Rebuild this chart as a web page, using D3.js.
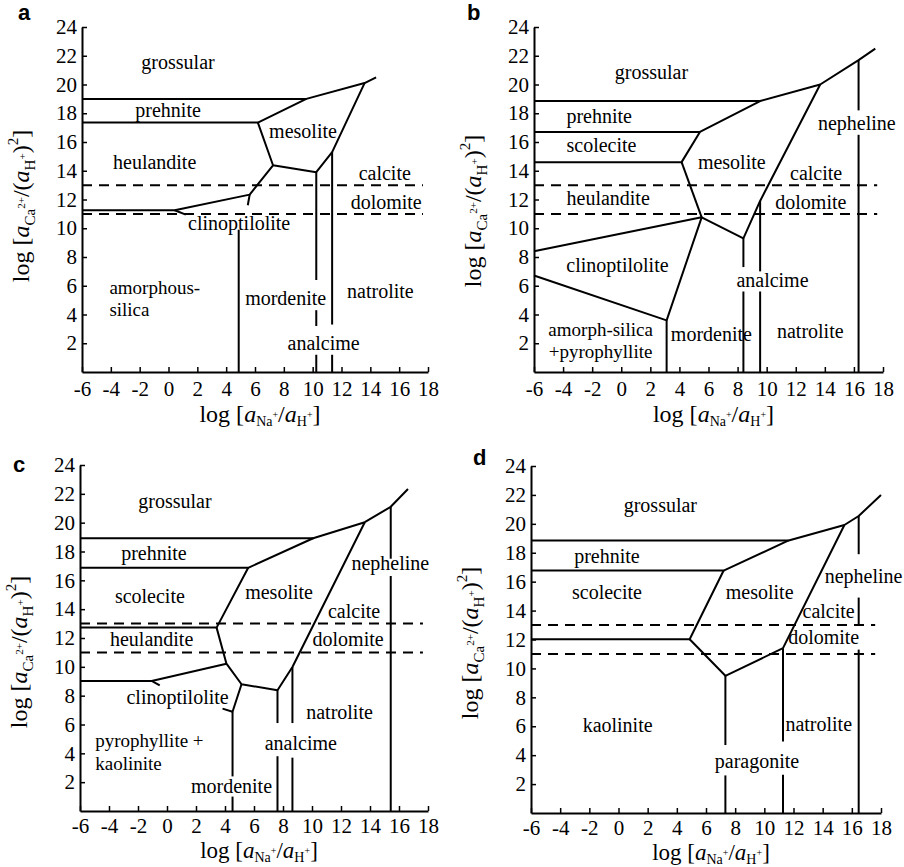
<!DOCTYPE html>
<html>
<head>
<meta charset="utf-8">
<script src="https://cdn.jsdelivr.net/npm/d3@7/dist/d3.min.js"></script>
<style>
  html, body { margin: 0; padding: 0; background: #fff; }
  svg { display: block; }
</style>
</head>
<body>
<script>
// ---------- data ----------
const xTicks = [-6, -4, -2, 0, 2, 4, 6, 8, 10, 12, 14, 16, 18];
const yTicks = [2, 4, 6, 8, 10, 12, 14, 16, 18, 20, 22, 24];
const panelNames = ["a", "b", "c", "d"];
const calciteDolomite = [13, 11]; // dashed stability lines

// phase boundaries (log aNa+/aH+, log aCa2+/aH+^2)
const linesA = [
  [[-6, 19], [9.56, 19], [13.6, 20.1], [14.4, 20.5]],
  [[-6, 17.35], [6.2, 17.35], [9.56, 19]],
  [[6.2, 17.35], [7.25, 14.38], [10.25, 13.9], [11.35, 15.3], [13.6, 20.1]],
  [[7.25, 14.38], [5.63, 12.34], [0.43, 11.25], [-6, 11.25]],
  [[5.63, 12.34], [5.5, 11.6]],
  [[0.43, 11.25], [1.2, 10.95]],
  [[4.87, 9.9], [4.87, 0]],
  [[10.25, 13.9], [10.25, 6.4]],
  [[10.25, 4.3], [10.25, 3.2]],
  [[10.25, 1.2], [10.25, 0]],
  [[11.35, 15.3], [11.35, 3.3]],
  [[11.35, 1.2], [11.35, 0]]
];
const linesB = [
  [[-6, 18.85], [9.55, 18.85], [13.68, 20.0], [16.32, 21.7], [17.47, 22.5]],
  [[-6, 16.7], [5.41, 16.7], [9.55, 18.85]],
  [[-6, 14.6], [4.15, 14.6], [5.41, 16.7]],
  [[4.15, 14.6], [5.53, 10.76]],
  [[-6, 8.4], [5.53, 10.76], [8.4, 9.3], [9.55, 11.9], [13.68, 20.0]],
  [[-6, 6.71], [3.12, 3.59], [5.53, 10.76]],
  [[3.12, 3.59], [3.12, 0]],
  [[8.4, 9.3], [8.4, 7.3]],
  [[8.4, 5.6], [8.4, 0]],
  [[9.55, 11.9], [9.55, 7.0]],
  [[9.55, 5.6], [9.55, 0]],
  [[16.32, 21.7], [16.32, 18.2]],
  [[16.32, 16.5], [16.32, 0]]
];
const linesC = [
  [[-6, 18.92], [10.08, 18.92], [13.64, 20.03], [15.43, 21.1], [16.62, 22.34]],
  [[-6, 16.87], [5.6, 16.87], [10.08, 18.92]],
  [[5.6, 16.87], [3.42, 12.72], [-6, 12.72]],
  [[3.42, 12.72], [4.1, 10.22], [5.14, 8.79], [7.62, 8.38], [8.65, 9.99], [13.64, 20.03]],
  [[-6, 9.02], [-1.06, 9.02], [4.1, 10.22]],
  [[-1.06, 9.02], [-0.5, 8.72]],
  [[5.14, 8.79], [4.52, 6.88], [3.83, 7.1]],
  [[4.52, 6.88], [4.52, 2.4]],
  [[4.52, 1.0], [4.52, 0]],
  [[7.62, 8.38], [7.62, 6.1]],
  [[7.62, 3.8], [7.62, 0]],
  [[8.65, 9.99], [8.65, 6.1]],
  [[8.65, 3.7], [8.65, 0]],
  [[15.43, 21.1], [15.43, 17.5]],
  [[15.43, 16.3], [15.43, 0]]
];
const linesD = [
  [[-6, 18.85], [11.67, 18.85], [15.49, 19.92], [16.47, 20.54], [18, 22.0]],
  [[-6, 16.77], [7.21, 16.77], [11.67, 18.85]],
  [[7.21, 16.77], [4.88, 12.02], [-6, 12.02]],
  [[4.88, 12.02], [7.33, 9.49], [11.28, 11.4], [15.49, 19.92]],
  [[7.33, 9.49], [7.33, 4.7]],
  [[7.33, 2.6], [7.33, 0]],
  [[11.28, 11.4], [11.28, 4.95]],
  [[11.28, 2.65], [11.28, 0]],
  [[16.47, 20.54], [16.47, 17.9]],
  [[16.47, 14.9], [16.47, 13.0]],
  [[16.47, 11.3], [16.47, 0]]
];
const dashEnd = [17.65, 17.6, 17.65, 17.6];

// field labels: [text lines, x, y of each line, anchor]
const labelsA = [
  [["grossular"], 0.66, [21.56]], [["prehnite"], -0.03, [18.2]], [["mesolite"], 9.33, [16.77]],
  [["heulandite"], -0.96, [14.6]], [["calcite"], 15.0, [13.8]], [["dolomite"], 15.1, [11.83]],
  [["clinoptilolite"], 4.9, [10.37]], [["amorphous-", "silica"], -4.1, [5.85, 4.35], "start"],
  [["mordenite"], 8.13, [5.15]], [["natrolite"], 14.7, [5.6]], [["analcime"], 10.76, [1.97]]
];
const labelsB = [
  [["grossular"], 2.08, [20.83]], [["prehnite"], -1.52, [17.8]], [["scolecite"], -1.36, [15.74]],
  [["mesolite"], 7.6, [14.58]], [["nepheline"], 16.2, [17.3]], [["calcite"], 13.4, [13.8]],
  [["heulandite"], -0.9, [12.1]], [["dolomite"], 13.04, [11.8]], [["clinoptilolite"], -0.26, [7.4]],
  [["analcime"], 10.4, [6.37]], [["amorph-silica", "+pyrophyllite"], -1.42, [2.93, 1.43]],
  [["mordenite"], 6.2, [2.6]], [["natrolite"], 13.0, [2.8]]
];
const labelsC = [
  [["grossular"], 0.55, [21.5]], [["prehnite"], -0.9, [17.9]], [["nepheline"], 15.4, [17.2]],
  [["scolecite"], -1.18, [14.9]], [["mesolite"], 7.73, [15.14]], [["calcite"], 12.9, [13.85]],
  [["heulandite"], -1.06, [11.89]], [["dolomite"], 12.49, [11.89]], [["clinoptilolite"], 0.73, [7.87]],
  [["natrolite"], 11.9, [6.81]], [["pyrophyllite +", "kaolinite"], -4.95, [4.87, 3.3], "start"],
  [["analcime"], 9.23, [4.68]], [["mordenite"], 4.45, [1.68]]
];
const labelsD = [
  [["grossular"], 2.87, [21.3]], [["prehnite"], -0.79, [17.78]], [["scolecite"], -0.79, [15.25]],
  [["nepheline"], 16.8, [16.35]], [["mesolite"], 9.68, [15.27]], [["calcite"], 14.41, [13.93]],
  [["dolomite"], 14.07, [12.16]], [["kaolinite"], -0.06, [6.03]], [["natrolite"], 13.73, [6.15]],
  [["paragonite"], 9.5, [3.57]]
];

// ---------- layout ----------
const W = 904, H = 867;
const SERIF = "'Liberation Serif','Times New Roman',Times,serif";
const SANS = "'Liberation Sans',Arial,Helvetica,sans-serif";
const panels = [
  { name: panelNames[0], left: 82,  right: 428, top: 27,  bottom: 372, pad: 9, xTitleDy: 50, titleSize: 24, yTitleC: 206, letter: [18, 20],  lines: linesA, labels: labelsA, dashEnd: dashEnd[0] },
  { name: panelNames[1], left: 534, right: 883, top: 27,  bottom: 372, pad: 9, xTitleDy: 50, titleSize: 24, yTitleC: 211, letter: [467, 20], lines: linesB, labels: labelsB, dashEnd: dashEnd[1] },
  { name: panelNames[2], left: 80,  right: 428, top: 465, bottom: 811, pad: 7, xTitleDy: 47, titleSize: 23, yTitleC: 652, letter: [13, 472], lines: linesC, labels: labelsC, dashEnd: dashEnd[2] },
  { name: panelNames[3], left: 531, right: 881, top: 466, bottom: 813, pad: 7, xTitleDy: 47, titleSize: 23, yTitleC: 643, letter: [473, 465], lines: linesD, labels: labelsD, dashEnd: dashEnd[3] }
];

const svg = d3.select("body").append("svg")
  .attr("width", W).attr("height", H)
  .attr("viewBox", `0 0 ${W} ${H}`);
svg.append("rect").attr("width", W).attr("height", H).attr("fill", "#fff");

panels.forEach(p => {
  const x = d3.scaleLinear().domain([-6, 18]).range([p.left, p.right]);
  const y = d3.scaleLinear().domain([0, 24]).range([p.bottom, p.top]);
  const g = svg.append("g").attr("class", "panel-" + p.name);

  // axes
  const xa = d3.axisBottom(x).tickValues(xTicks).tickFormat(d => String(d))
    .tickSizeInner(-5).tickSizeOuter(0).tickPadding(p.pad);
  const ya = d3.axisLeft(y).tickValues(yTicks).tickFormat(d => String(d))
    .tickSizeInner(-5).tickSizeOuter(0).tickPadding(5);
  const gx = g.append("g").attr("transform", `translate(0,${p.bottom})`).call(xa);
  const gy = g.append("g").attr("transform", `translate(${p.left},0)`).call(ya);
  [gx, gy].forEach(a => {
    a.attr("font-family", SERIF).attr("font-size", 21);
    a.select(".domain").attr("stroke", "#000").attr("stroke-width", 2);
    a.selectAll(".tick line").attr("stroke", "#000").attr("stroke-width", 1.5);
    a.selectAll(".tick text").attr("fill", "#000");
  });

  // dashed calcite / dolomite lines
  const line = d3.line().x(d => x(d[0])).y(d => y(d[1]));
  calciteDolomite.forEach(v => {
    g.append("path").attr("d", line([[-6, v], [p.dashEnd, v]]))
      .attr("fill", "none").attr("stroke", "#000").attr("stroke-width", 2)
      .attr("stroke-dasharray", "10,7");
  });

  // phase boundaries
  g.selectAll("path.bnd").data(p.lines).join("path").attr("class", "bnd")
    .attr("d", line).attr("fill", "none").attr("stroke", "#000")
    .attr("stroke-width", 2).attr("stroke-linejoin", "round");

  // field labels
  const fl = g.selectAll("text.fld").data(p.labels).join("text").attr("class", "fld")
    .attr("text-anchor", d => d[3] || "middle")
    .attr("font-family", SERIF).attr("font-size", d => d[0].length > 1 ? 19 : 20).attr("fill", "#000");
  fl.each(function (d) {
    const t = d3.select(this);
    d[0].forEach((s, i) => {
      t.append("tspan").attr("x", x(d[1])).attr("y", y(d[2][i])).attr("dy", "0.33em").text(s);
    });
  });

  // x title: log [a_Na+/a_H+]
  const xt = g.append("text")
    .attr("x", (p.left + p.right) / 2 + 5).attr("y", p.bottom + p.xTitleDy)
    .attr("text-anchor", "middle").attr("font-family", SERIF).attr("font-size", p.titleSize).attr("fill", "#000");
  xt.append("tspan").text("log [");
  xt.append("tspan").attr("font-style", "italic").text("a");
  xt.append("tspan").attr("font-size", 14).attr("dy", 4).text("Na");
  xt.append("tspan").attr("font-size", 10).attr("dy", -8).text("+");
  xt.append("tspan").attr("dy", 4).text("/");
  xt.append("tspan").attr("font-style", "italic").text("a");
  xt.append("tspan").attr("font-size", 14).attr("dy", 4).text("H");
  xt.append("tspan").attr("font-size", 10).attr("dy", -8).text("+");
  xt.append("tspan").attr("dy", 4).text("]");

  // y title: log [a_Ca2+/(a_H+)^2]
  const yt = g.append("text")
    .attr("transform", `translate(${p.left - 53},${p.yTitleC}) rotate(-90)`)
    .attr("text-anchor", "middle").attr("font-family", SERIF).attr("font-size", 24).attr("fill", "#000");
  yt.append("tspan").text("log [");
  yt.append("tspan").attr("font-style", "italic").text("a");
  yt.append("tspan").attr("font-size", 15).attr("dy", 6).text("Ca");
  yt.append("tspan").attr("font-size", 11).attr("dy", -10).text("2+");
  yt.append("tspan").attr("dy", 4).text("/(");
  yt.append("tspan").attr("font-style", "italic").text("a");
  yt.append("tspan").attr("font-size", 15).attr("dy", 6).text("H");
  yt.append("tspan").attr("font-size", 11).attr("dy", -9).text("+");
  yt.append("tspan").attr("dy", 3).text(")");
  yt.append("tspan").attr("font-size", 15).attr("dy", -11).text("2");
  yt.append("tspan").attr("dy", 11).text("]");

  // panel letter
  g.append("text").attr("x", p.letter[0]).attr("y", p.letter[1])
    .attr("font-family", SANS).attr("font-weight", "bold").attr("font-size", 22)
    .attr("fill", "#000").text(p.name);
});
</script>
</body>
</html>
